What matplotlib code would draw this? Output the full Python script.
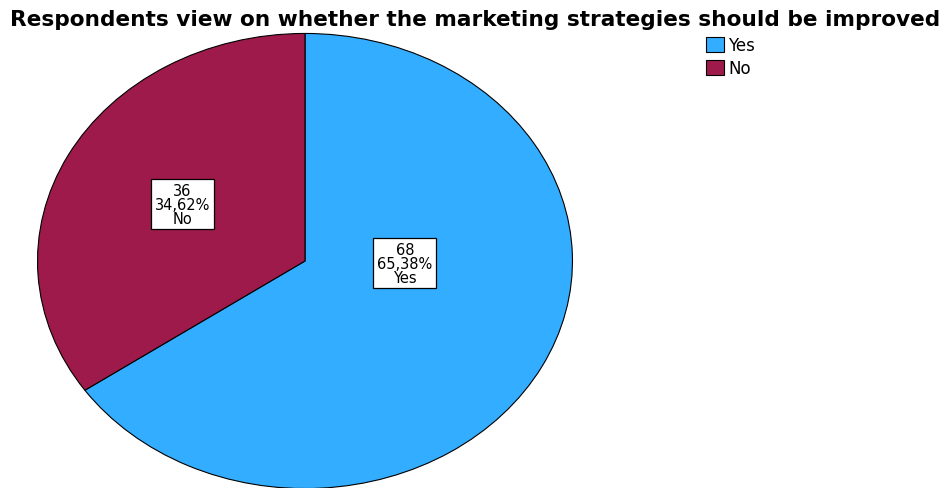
import matplotlib.pyplot as plt
import numpy as np

categories = ["Yes", "No"]
counts = [68, 36]
percent_labels = ["65,38%", "34,62%"]
colors = ["#33adff", "#9e1a4a"]

# where SPSS puts the value boxes, in pie data coordinates
label_pos = [(0.373, -0.01), (-0.459, 0.25)]


def main():
    plt.rcParams['font.family'] = ['DejaVu Sans']
    fig = plt.figure(figsize=(9.5, 4.89), dpi=100)
    ax = fig.add_axes([37 / 950, -1 / 489, 536 / 950, 456 / 489])

    wedges, _ = ax.pie(counts, colors=colors, startangle=90, counterclock=False,
                       wedgeprops=dict(edgecolor='black', linewidth=0.8))
    ax.set_aspect('auto')
    ax.set_xlim(-1.002, 1.002)
    ax.set_ylim(-1.002, 1.002)
    ax.axis('off')

    for cat, n, pct, (x, y) in zip(categories, counts, percent_labels, label_pos):
        ax.text(x, y, f"{n}\n{pct}\n{cat}", ha='center', va='center',
                fontsize=10.5, linespacing=0.92,
                bbox=dict(boxstyle='square,pad=0.25', facecolor='white',
                          edgecolor='black', linewidth=0.9))

    fig.text(10 / 950, 1 - 20 / 489, "Respondents view on whether the marketing strategies should be improved",
             fontsize=15.6, fontweight='bold', va='center', ha='left')

    fig.legend(wedges, categories, loc='upper left', bbox_to_anchor=(706 / 950, 1 - 37 / 489),
               frameon=False, fontsize=12, handlelength=1.1, handleheight=1.05,
               handletextpad=0.25, labelspacing=0.3, borderpad=0,
               borderaxespad=0)

    fig.savefig("out.png", dpi=100)


if __name__ == "__main__":
    main()
